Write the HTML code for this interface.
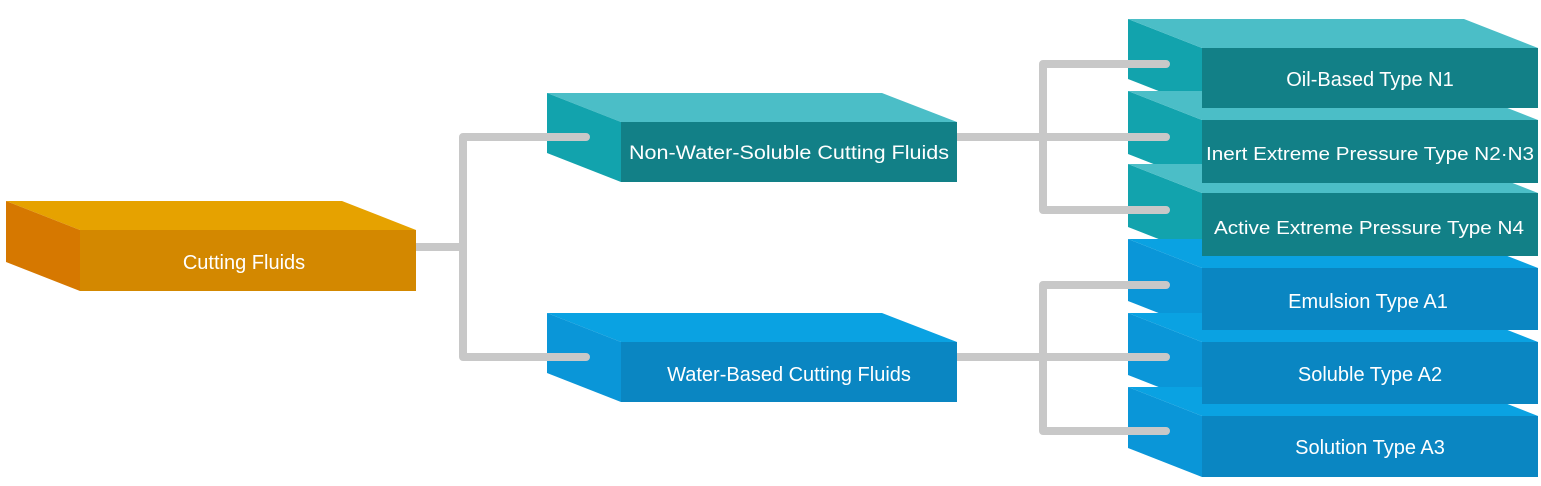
<!DOCTYPE html>
<html><head><meta charset="utf-8"><style>
html,body{margin:0;padding:0;background:#fff;}
svg{display:block;}
text{font-family:"Liberation Sans",sans-serif;fill:#fff;text-anchor:middle;}
</style></head><body>
<svg width="1541" height="486" viewBox="0 0 1541 486" xmlns="http://www.w3.org/2000/svg">
<g stroke="#c8c8c8" stroke-width="8" fill="none" stroke-linecap="round">
<path d="M416 247 H463 M463 137 V357 M463 137 H586 M463 357 H586"/>
<path d="M957 137 H1043 M1043 64 V210 M1043 64 H1166 M1043 137 H1166 M1043 210 H1166"/>
<path d="M957 357 H1043 M1043 285 V431 M1043 285 H1166 M1043 357 H1166 M1043 431 H1166"/>
</g>
<!-- Cutting Fluids -->
<polygon points="6,201 342,201 416,230 80,230" fill="#e6a200"/>
<polygon points="6,201 80,230 80,291 6,262" fill="#d67800"/>
<rect x="80" y="230" width="336" height="61" fill="#d38800"/>
<text x="244" y="269" font-size="20">Cutting Fluids</text>
<!-- Non-water -->
<polygon points="547,93 882,93 957,122 621,122" fill="#4bbec7"/>
<polygon points="547,93 621,122 621,182 547,153" fill="#12a3ad"/>
<rect x="621" y="122" width="336" height="60" fill="#128087"/>
<text x="789" y="159" font-size="19" textLength="320" lengthAdjust="spacingAndGlyphs">Non-Water-Soluble Cutting Fluids</text>
<!-- Water based -->
<polygon points="547,313 882,313 957,342 621,342" fill="#0aa2e2"/>
<polygon points="547,313 621,342 621,402 547,373" fill="#0a96d8"/>
<rect x="621" y="342" width="336" height="60" fill="#0a86c2"/>
<text x="789" y="381" font-size="20">Water-Based Cutting Fluids</text>

<!-- Right stack: left faces -->
<polygon points="1128,19 1202,48 1202,108 1128,79" fill="#12a3ad"/>
<polygon points="1128,91 1202,120 1202,183 1128,154" fill="#12a3ad"/>
<polygon points="1128,164 1202,193 1202,256 1128,227" fill="#12a3ad"/>
<polygon points="1128,239 1202,268 1202,330 1128,301" fill="#0a96d8"/>
<polygon points="1128,313 1202,342 1202,404 1128,375" fill="#0a96d8"/>
<polygon points="1128,387 1202,416 1202,477 1128,448" fill="#0a96d8"/>
<!-- top faces bottom-up -->
<polygon points="1128,387 1464,387 1538,416 1202,416" fill="#0aa2e2"/>
<polygon points="1128,313 1464,313 1538,342 1202,342" fill="#0aa2e2"/>
<polygon points="1128,239 1464,239 1538,268 1202,268" fill="#0aa2e2"/>
<polygon points="1128,164 1464,164 1538,193 1202,193" fill="#4bbec7"/>
<polygon points="1128,91 1464,91 1538,120 1202,120" fill="#4bbec7"/>
<polygon points="1128,19 1464,19 1538,48 1202,48" fill="#4bbec7"/>
<!-- front faces -->
<rect x="1202" y="48" width="336" height="60" fill="#128087"/>
<rect x="1202" y="120" width="336" height="63" fill="#128087"/>
<rect x="1202" y="193" width="336" height="63" fill="#128087"/>
<rect x="1202" y="268" width="336" height="62" fill="#0a86c2"/>
<rect x="1202" y="342" width="336" height="62" fill="#0a86c2"/>
<rect x="1202" y="416" width="336" height="61" fill="#0a86c2"/>
<text x="1370" y="86" font-size="20">Oil-Based Type N1</text>
<text x="1370" y="160" font-size="18" textLength="328" lengthAdjust="spacingAndGlyphs">Inert Extreme Pressure Type N2·N3</text>
<text x="1369" y="234" font-size="18" textLength="310" lengthAdjust="spacingAndGlyphs">Active Extreme Pressure Type N4</text>
<text x="1368" y="308" font-size="20">Emulsion Type A1</text>
<text x="1370" y="381" font-size="20">Soluble Type A2</text>
<text x="1370" y="454" font-size="20">Solution Type A3</text>
<!-- connector stubs overlapping left faces -->
<g stroke="#c8c8c8" stroke-width="8" fill="none" stroke-linecap="round">
<path d="M1128 64 H1166 M1128 137 H1166 M1128 210 H1166 M1128 285 H1166 M1128 357 H1166 M1128 431 H1166 M547 137 H586 M547 357 H586"/>
</g>
</svg>
</body></html>
